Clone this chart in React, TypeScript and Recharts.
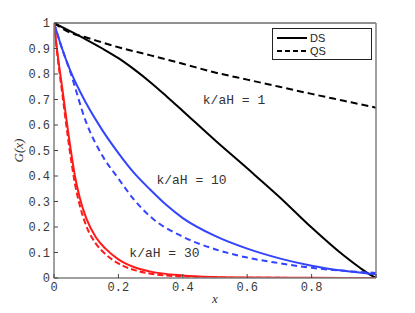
import React from 'react';
import { LineChart, Line, XAxis, YAxis, ReferenceDot, Legend } from 'recharts';

// ---- data ----
const xTicks = [0, 0.2, 0.4, 0.6, 0.8, 1];
const yTicks = [0, 0.1, 0.2, 0.3, 0.4, 0.5, 0.6, 0.7, 0.8, 0.9, 1];

const xK1DS = [0, 0.05, 0.1, 0.15, 0.2, 0.25, 0.3, 0.35, 0.4, 0.5, 0.6, 0.7, 0.8, 0.9, 0.95, 0.98, 1];
const yK1DS = [1, 0.968, 0.935, 0.9, 0.862, 0.817, 0.767, 0.712, 0.655, 0.54, 0.43, 0.318, 0.198, 0.088, 0.04, 0.014, 0];

const xK1QS = [0, 0.05, 0.1, 0.2, 0.3, 0.4, 0.5, 0.6, 0.7, 0.8, 0.9, 1];
const yK1QS = [1, 0.962, 0.943, 0.905, 0.873, 0.84, 0.806, 0.778, 0.75, 0.722, 0.695, 0.668];

const xK10DS = [0, 0.025, 0.05, 0.1, 0.15, 0.2, 0.25, 0.3, 0.35, 0.4, 0.5, 0.6, 0.7, 0.8, 0.9, 1];
const yK10DS = [1, 0.9, 0.815, 0.685, 0.58, 0.49, 0.41, 0.345, 0.285, 0.235, 0.165, 0.115, 0.077, 0.048, 0.028, 0.015];

const xK10QS = [0, 0.025, 0.05, 0.1, 0.15, 0.2, 0.25, 0.3, 0.4, 0.5, 0.6, 0.7, 0.8, 0.9, 1];
const yK10QS = [1, 0.9, 0.81, 0.61, 0.48, 0.39, 0.305, 0.24, 0.162, 0.113, 0.08, 0.058, 0.04, 0.028, 0.02];

const xK30 = [0, 0.01, 0.025, 0.05, 0.065, 0.08, 0.1, 0.13, 0.16, 0.2, 0.25, 0.3, 0.4, 0.5, 0.6, 0.8, 1];
const yK30DS = [1, 0.89, 0.75, 0.52, 0.4, 0.315, 0.235, 0.16, 0.115, 0.073, 0.042, 0.025, 0.01, 0.004, 0.002, 0.0005, 0];
const yK30QS = [1, 0.88, 0.73, 0.49, 0.37, 0.285, 0.205, 0.135, 0.093, 0.057, 0.031, 0.017, 0.006, 0.002, 0.001, 0.0003, 0];

const labels = [
  { x: 0.559, y: 0.698, text: 'k/aH = 1' },
  { x: 0.427, y: 0.384, text: 'k/aH = 10' },
  { x: 0.343, y: 0.099, text: 'k/aH = 30' },
];

const legendItems = [
  { name: 'DS', dash: undefined as string | undefined },
  { name: 'QS', dash: '5 3' },
];

const toPts = (xs: number[], ys: number[]) => xs.map((x, i) => ({ x, y: ys[i] }));

const BLUE = '#3344ff';
const RED = '#ff1a1a';
const TICK_COLOR = '#3a3a3a';
const MONO = '"Liberation Mono", "DejaVu Sans Mono", monospace';

const BottomTick = (props: any) => {
  const { x, y, payload } = props;
  const v = payload.value;
  return (
    <g>
      <line x1={x} x2={x} y1={y} y2={y - 4} stroke="#444" strokeWidth={1} />
      {v !== 1 && (
        <text x={x} y={y + 13} textAnchor="middle" fill={TICK_COLOR} fontFamily={MONO} fontSize={12}>
          {String(v)}
        </text>
      )}
    </g>
  );
};

const TopTick = (props: any) => {
  const { x, y } = props;
  return <line x1={x} x2={x} y1={y} y2={y + 4} stroke="#444" strokeWidth={1} />;
};

const LeftTick = (props: any) => {
  const { x, y, payload } = props;
  return (
    <g>
      <line x1={x} x2={x + 4} y1={y} y2={y} stroke="#444" strokeWidth={1} />
      <text x={x - 4} y={y + 4} textAnchor="end" fill={TICK_COLOR} fontFamily={MONO} fontSize={12}>
        {String(payload.value)}
      </text>
    </g>
  );
};

const RightTick = (props: any) => {
  const { x, y } = props;
  return <line x1={x} x2={x - 4} y1={y} y2={y} stroke="#444" strokeWidth={1} />;
};

const LegendBox = () => (
  <svg width={100} height={32} style={{ display: 'block' }}>
    <rect x={0.5} y={0.5} width={99} height={31} fill="#fff" stroke="#222" strokeWidth={1} />
    {legendItems.map((it, i) => (
      <g key={it.name}>
        <line
          x1={5}
          x2={35}
          y1={10 + i * 13}
          y2={10 + i * 13}
          stroke="#000"
          strokeWidth={2}
          strokeDasharray={it.dash}
        />
        <text x={38} y={14 + i * 13} fontFamily='"Liberation Sans", Arial, sans-serif' fontSize={11} fill="#222">
          {it.name}
        </text>
      </g>
    ))}
  </svg>
);

export default function App() {
  return (
    <div style={{ position: 'absolute', left: 0, top: 0, width: 415, height: 313, background: '#fff' }}>
      <LineChart width={415} height={313} margin={{ top: 22, right: 38, bottom: 15, left: 14 }}>
        <XAxis
          xAxisId="b"
          dataKey="x"
          type="number"
          domain={[0, 1]}
          ticks={xTicks}
          tickSize={0}
          tickMargin={0}
          tickLine={false}
          tick={<BottomTick />}
          axisLine={{ stroke: '#808080', strokeWidth: 1.5 }}
          height={20}
          allowDataOverflow
          label={{
            content: (p: any) => {
              const vb = p.viewBox;
              return (
                <text
                  x={vb.x + vb.width / 2}
                  y={vb.y + 25}
                  textAnchor="middle"
                  fontFamily='"Liberation Serif", "DejaVu Serif", serif'
                  fontStyle="italic"
                  fontSize={13}
                  fill="#333"
                >
                  x
                </text>
              );
            },
          }}
        />
        <XAxis
          xAxisId="t"
          orientation="top"
          type="number"
          domain={[0, 1]}
          ticks={xTicks}
          tickSize={0}
          tickMargin={0}
          tickLine={false}
          tick={<TopTick />}
          axisLine={{ stroke: '#222', strokeWidth: 1 }}
          height={1}
        />
        <YAxis
          yAxisId="l"
          type="number"
          domain={[0, 1]}
          ticks={yTicks}
          tickSize={0}
          tickMargin={0}
          tickLine={false}
          tick={<LeftTick />}
          axisLine={{ stroke: '#808080', strokeWidth: 1.5 }}
          width={40}
          allowDataOverflow
          label={{
            content: (p: any) => {
              const vb = p.viewBox;
              const cx = vb.x + 4;
              const cy = vb.y + vb.height / 2;
              return (
                <text
                  x={cx}
                  y={cy}
                  transform={`rotate(-90, ${cx}, ${cy})`}
                  textAnchor="middle"
                  dominantBaseline="central"
                  fontFamily='"Liberation Serif", "DejaVu Serif", serif'
                  fontStyle="italic"
                  fontSize={13}
                  fill="#333"
                >
                  G(x)
                </text>
              );
            },
          }}
        />
        <YAxis
          yAxisId="r"
          orientation="right"
          type="number"
          domain={[0, 1]}
          ticks={yTicks}
          tickSize={0}
          tickMargin={0}
          tickLine={false}
          tick={<RightTick />}
          axisLine={{ stroke: '#808080', strokeWidth: 1.5 }}
          width={1}
        />
        <Legend
          verticalAlign="middle"
          align="center"
          layout="horizontal"
          wrapperStyle={{ position: 'absolute', left: 272, top: 28, width: 100, height: 32 }}
          content={() => <LegendBox />}
        />
        <Line xAxisId="b" yAxisId="l" data={toPts(xK1QS, yK1QS)} dataKey="y" type="monotone" stroke="#000" strokeWidth={2} strokeDasharray="7 4" dot={false} isAnimationActive={false} name="QS1" legendType="none" />
        <Line xAxisId="b" yAxisId="l" data={toPts(xK1DS, yK1DS)} dataKey="y" type="monotone" stroke="#000" strokeWidth={2} dot={false} isAnimationActive={false} name="DS1" legendType="none" />
        <Line xAxisId="b" yAxisId="l" data={toPts(xK10QS, yK10QS)} dataKey="y" type="monotone" stroke={BLUE} strokeWidth={2} strokeDasharray="6 4" dot={false} isAnimationActive={false} name="QS10" legendType="none" />
        <Line xAxisId="b" yAxisId="l" data={toPts(xK10DS, yK10DS)} dataKey="y" type="monotone" stroke={BLUE} strokeWidth={2} dot={false} isAnimationActive={false} name="DS10" legendType="none" />
        <Line xAxisId="b" yAxisId="l" data={toPts(xK30, yK30QS)} dataKey="y" type="monotone" stroke={RED} strokeWidth={2} strokeDasharray="6 3" dot={false} isAnimationActive={false} name="QS30" legendType="none" />
        <Line xAxisId="b" yAxisId="l" data={toPts(xK30, yK30DS)} dataKey="y" type="monotone" stroke={RED} strokeWidth={2} dot={false} isAnimationActive={false} name="DS30" legendType="none" />
        {labels.map((l) => (
          <ReferenceDot
            key={l.text}
            xAxisId="b"
            yAxisId="l"
            x={l.x}
            y={l.y}
            r={0}
            stroke="none"
            fill="none"
            label={{
              content: (p: any) => {
                const vb = p.viewBox;
                const cx = vb.x + (vb.width || 0) / 2;
                const cy = vb.y + (vb.height || 0) / 2;
                return (
                  <text x={cx} y={cy + 4} textAnchor="middle" fontFamily={MONO} fontSize={13} fill="#333">
                    {l.text}
                  </text>
                );
              },
            }}
          />
        ))}
      </LineChart>
    </div>
  );
}
